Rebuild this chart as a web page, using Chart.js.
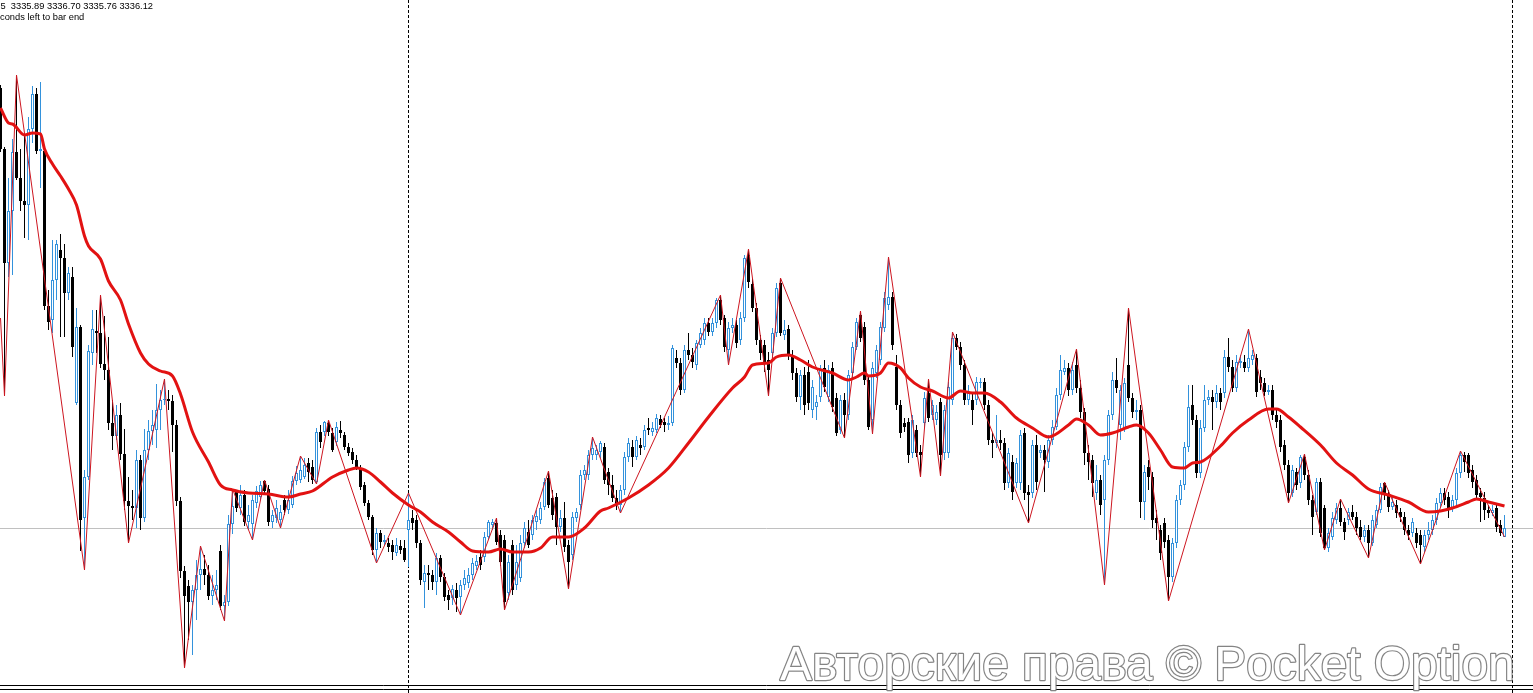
<!DOCTYPE html>
<html>
<head>
<meta charset="utf-8">
<title>M5 chart</title>
<script src="https://cdn.jsdelivr.net/npm/chart.js@4.4.1/dist/chart.umd.min.js"></script>
<style>
  html, body { margin: 0; padding: 0; background: #fff; overflow: hidden; }
  canvas { display: block; }
</style>
</head>
<body>
<canvas id="priceChart" width="1533" height="693"></canvas>
<script>
// Candles, one per bar (bar index = position in the arrays)
const opens = [
  3380.1, 3374.0, 3362.6, 3367.8, 3373.7, 3371.1, 3368.8, 3368.4, 3376.0, 3379.5,
  3373.8, 3373.8, 3358.3, 3356.9, 3360.9, 3363.9, 3363.1, 3359.6, 3361.2, 3348.6,
  3356.2, 3337.1, 3341.2, 3353.6, 3355.8, 3355.6, 3352.5, 3351.9, 3346.6, 3345.3,
  3347.4, 3343.5, 3338.8, 3338.3, 3338.1, 3342.9, 3337.1, 3343.9, 3345.8, 3345.9,
  3347.9, 3348.9, 3349.0, 3348.8, 3346.4, 3338.8, 3331.8, 3330.3, 3328.7, 3329.9,
  3331.4, 3332.0, 3331.4, 3329.3, 3329.9, 3333.8, 3328.3, 3328.7, 3336.5, 3339.7,
  3338.1, 3339.4, 3336.7, 3336.5, 3338.6, 3339.2, 3340.8, 3340.0, 3336.7, 3337.1,
  3336.9, 3338.9, 3337.9, 3338.4, 3340.8, 3340.9, 3341.2, 3342.6, 3342.2, 3340.7,
  3345.7, 3345.7, 3346.6, 3345.6, 3344.7, 3345.9, 3345.4, 3344.2, 3343.7, 3342.9,
  3342.1, 3340.4, 3338.6, 3337.2, 3333.9, 3335.6, 3334.7, 3334.6, 3334.4, 3333.6,
  3334.3, 3334.1, 3335.9, 3337.1, 3336.9, 3334.6, 3330.7, 3331.6, 3331.4, 3330.7,
  3333.1, 3331.2, 3329.4, 3329.1, 3329.9, 3329.2, 3330.4, 3330.6, 3331.4, 3332.3,
  3333.2, 3333.2, 3335.2, 3336.4, 3336.6, 3335.4, 3334.9, 3329.6, 3334.4, 3330.4,
  3331.1, 3334.6, 3335.7, 3335.4, 3336.7, 3336.9, 3338.2, 3341.1, 3339.1, 3339.2,
  3336.2, 3337.1, 3334.4, 3333.4, 3337.1, 3338.4, 3341.4, 3341.4, 3343.4, 3343.4,
  3343.7, 3344.2, 3341.7, 3340.4, 3339.1, 3338.4, 3339.9, 3343.2, 3344.2, 3343.2,
  3344.4, 3344.2, 3346.1, 3345.7, 3345.9, 3347.0, 3346.7, 3346.4, 3346.6, 3353.1,
  3352.6, 3349.9, 3353.9, 3353.4, 3352.4, 3354.4, 3354.9, 3356.6, 3355.7, 3356.6,
  3358.9, 3357.1, 3353.9, 3356.1, 3356.4, 3354.9, 3357.1, 3363.4, 3360.5, 3358.1,
  3354.9, 3354.4, 3352.9, 3353.6, 3355.6, 3360.6, 3355.4, 3356.0, 3353.4, 3351.6,
  3349.2, 3351.4, 3351.7, 3347.9, 3348.2, 3349.2, 3352.1, 3349.2, 3352.1, 3349.1,
  3345.9, 3348.9, 3347.4, 3351.6, 3354.2, 3357.4, 3356.2, 3350.9, 3346.9, 3351.6,
  3352.9, 3356.1, 3358.4, 3359.2, 3352.2, 3348.4, 3346.6, 3346.7, 3343.6, 3345.9,
  3343.7, 3346.6, 3349.6, 3347.4, 3346.9, 3348.7, 3343.6, 3343.6, 3348.9, 3355.1,
  3354.2, 3352.4, 3348.9, 3348.9, 3348.9, 3350.6, 3350.7, 3348.4, 3344.9, 3344.6,
  3344.9, 3344.6, 3340.6, 3342.7, 3340.6, 3340.6, 3345.6, 3339.7, 3339.6, 3344.4,
  3343.6, 3343.9, 3342.7, 3344.9, 3346.2, 3349.4, 3351.7, 3352.1, 3349.9, 3352.4,
  3350.1, 3347.7, 3343.6, 3342.9, 3339.6, 3340.9, 3338.9, 3342.9, 3347.4, 3350.9,
  3346.4, 3346.1, 3352.4, 3349.1, 3347.7, 3347.9, 3338.7, 3342.2, 3341.2, 3337.1,
  3335.9, 3336.6, 3334.9, 3331.2, 3334.6, 3338.9, 3340.4, 3344.2, 3348.4, 3346.9,
  3341.6, 3346.1, 3348.9, 3349.2, 3348.7, 3349.6, 3349.6, 3353.2, 3352.2, 3350.1,
  3352.6, 3352.7, 3352.1, 3352.9, 3353.1, 3351.2, 3350.6, 3349.7, 3349.9, 3347.4,
  3346.9, 3344.4, 3342.4, 3339.6, 3341.7, 3340.6, 3343.2, 3341.4, 3338.9, 3337.7,
  3340.7, 3338.1, 3334.1, 3335.2, 3336.9, 3338.1, 3336.7, 3336.9, 3337.7, 3337.2,
  3336.2, 3335.2, 3335.9, 3334.6, 3336.4, 3337.9, 3340.6, 3339.4, 3338.2, 3338.4,
  3337.7, 3337.2, 3335.9, 3335.6, 3335.6, 3335.4, 3334.2, 3335.4, 3335.9, 3336.9,
  3338.6, 3339.6, 3339.2, 3338.1, 3338.9, 3341.6, 3343.4, 3343.4, 3341.9, 3340.9,
  3339.6, 3339.1, 3337.9, 3337.6, 3338.1, 3336.4, 3335.2
];
const highs = [
  3380.4, 3374.2, 3371.1, 3375.0, 3381.4, 3374.0, 3375.4, 3377.2, 3380.3, 3380.1,
  3380.7, 3374.2, 3359.9, 3364.9, 3364.9, 3365.5, 3364.5, 3362.2, 3362.2, 3358.1,
  3356.4, 3341.9, 3354.4, 3357.9, 3357.9, 3359.4, 3357.3, 3355.2, 3348.9, 3348.4,
  3348.6, 3346.0, 3341.2, 3339.9, 3343.9, 3343.4, 3346.0, 3346.9, 3347.9, 3350.5,
  3349.9, 3351.0, 3349.9, 3349.4, 3346.9, 3339.2, 3332.3, 3330.9, 3330.4, 3332.9,
  3334.3, 3333.4, 3332.4, 3331.4, 3331.9, 3334.4, 3329.4, 3337.4, 3340.0, 3339.9,
  3340.4, 3339.9, 3338.4, 3339.4, 3340.3, 3340.8, 3340.9, 3340.4, 3337.9, 3338.9,
  3338.4, 3339.4, 3339.9, 3341.3, 3342.3, 3343.3, 3343.1, 3343.1, 3342.9, 3346.1,
  3346.4, 3346.8, 3346.9, 3346.1, 3346.7, 3346.8, 3345.7, 3344.6, 3344.1, 3343.4,
  3342.4, 3340.7, 3338.9, 3337.4, 3336.1, 3335.9, 3335.4, 3335.1, 3334.9, 3335.1,
  3334.9, 3334.9, 3339.6, 3337.9, 3337.4, 3334.9, 3332.4, 3332.4, 3331.9, 3333.6,
  3333.4, 3331.6, 3329.9, 3330.4, 3330.6, 3330.9, 3331.9, 3332.1, 3333.1, 3333.4,
  3333.9, 3335.7, 3336.9, 3337.0, 3337.1, 3335.9, 3335.4, 3333.4, 3334.9, 3334.4,
  3335.4, 3336.7, 3336.9, 3337.4, 3337.9, 3338.7, 3341.1, 3341.8, 3339.9, 3339.6,
  3337.9, 3338.7, 3334.9, 3337.7, 3338.1, 3341.9, 3342.4, 3343.9, 3345.2, 3344.4,
  3344.8, 3344.6, 3342.1, 3341.4, 3339.9, 3340.4, 3343.7, 3345.1, 3344.9, 3345.3,
  3345.1, 3346.4, 3347.1, 3346.7, 3347.5, 3347.4, 3347.1, 3347.3, 3354.4, 3353.9,
  3353.1, 3354.4, 3355.6, 3354.1, 3354.9, 3356.1, 3357.1, 3357.1, 3357.1, 3359.1,
  3359.4, 3357.4, 3356.7, 3357.1, 3356.9, 3357.7, 3363.4, 3364.0, 3361.1, 3358.6,
  3355.4, 3354.9, 3353.7, 3356.1, 3360.6, 3361.1, 3356.9, 3356.4, 3353.9, 3352.1,
  3351.9, 3352.2, 3352.9, 3350.9, 3349.4, 3352.4, 3352.9, 3352.4, 3352.7, 3349.6,
  3349.4, 3349.6, 3351.9, 3354.7, 3357.1, 3357.8, 3356.7, 3351.4, 3352.7, 3354.4,
  3356.7, 3359.7, 3363.2, 3359.7, 3353.4, 3348.9, 3347.1, 3347.1, 3347.4, 3346.4,
  3344.4, 3349.7, 3351.0, 3348.9, 3348.4, 3349.1, 3348.4, 3350.7, 3355.7, 3355.5,
  3354.7, 3352.9, 3350.4, 3349.6, 3351.2, 3351.1, 3351.1, 3348.9, 3345.6, 3347.4,
  3345.9, 3345.1, 3344.1, 3343.4, 3343.1, 3345.9, 3346.1, 3340.4, 3344.9, 3345.4,
  3344.4, 3344.4, 3345.4, 3346.9, 3350.1, 3353.4, 3352.9, 3352.6, 3352.7, 3354.0,
  3350.9, 3348.1, 3344.4, 3343.4, 3342.4, 3341.4, 3343.4, 3347.9, 3351.7, 3353.1,
  3350.4, 3351.1, 3358.1, 3349.6, 3348.9, 3348.4, 3342.4, 3342.9, 3341.7, 3337.9,
  3336.4, 3337.1, 3335.4, 3335.1, 3339.4, 3340.9, 3344.7, 3350.4, 3350.4, 3347.4,
  3346.9, 3350.4, 3349.9, 3349.9, 3350.4, 3350.1, 3353.9, 3355.1, 3352.9, 3353.4,
  3353.4, 3353.4, 3356.0, 3353.9, 3353.5, 3351.9, 3351.1, 3350.4, 3350.4, 3347.9,
  3347.4, 3344.9, 3342.9, 3342.4, 3342.1, 3343.4, 3343.5, 3341.9, 3339.4, 3341.1,
  3341.1, 3338.4, 3336.1, 3337.7, 3338.6, 3339.0, 3337.1, 3338.1, 3338.4, 3337.7,
  3336.9, 3336.4, 3336.4, 3337.4, 3338.4, 3340.6, 3340.7, 3339.9, 3339.2, 3338.9,
  3338.1, 3337.7, 3336.4, 3337.1, 3336.1, 3335.9, 3335.9, 3336.7, 3337.4, 3339.1,
  3340.1, 3340.1, 3339.7, 3339.4, 3342.1, 3343.8, 3343.7, 3343.6, 3342.4, 3341.4,
  3340.1, 3339.7, 3338.4, 3338.4, 3338.4, 3336.9, 3337.4
];
const lows = [
  3373.7, 3349.3, 3361.2, 3361.4, 3370.9, 3367.8, 3365.1, 3364.9, 3374.6, 3373.5,
  3370.1, 3357.9, 3355.9, 3355.6, 3358.9, 3355.2, 3355.2, 3358.9, 3353.2, 3348.4,
  3333.8, 3331.9, 3340.9, 3352.4, 3353.6, 3352.1, 3350.9, 3345.9, 3343.9, 3344.9,
  3342.9, 3337.9, 3334.6, 3336.9, 3336.1, 3335.9, 3336.7, 3342.9, 3344.4, 3344.1,
  3345.9, 3348.4, 3347.9, 3343.7, 3338.3, 3331.1, 3322.1, 3324.9, 3323.4, 3326.9,
  3329.9, 3330.4, 3328.9, 3328.4, 3328.9, 3327.9, 3326.8, 3328.3, 3335.5, 3337.7,
  3337.4, 3336.3, 3335.9, 3334.9, 3338.1, 3338.9, 3339.4, 3336.3, 3336.1, 3336.6,
  3336.1, 3337.4, 3337.5, 3338.1, 3340.4, 3340.6, 3341.0, 3340.7, 3340.5, 3340.5,
  3344.1, 3345.3, 3345.3, 3343.7, 3344.3, 3345.1, 3343.9, 3343.3, 3342.5, 3341.9,
  3339.9, 3338.3, 3336.9, 3333.4, 3332.6, 3334.1, 3334.3, 3333.7, 3332.9, 3333.3,
  3333.5, 3332.7, 3332.2, 3335.9, 3334.1, 3330.4, 3328.1, 3329.9, 3329.9, 3329.4,
  3330.7, 3328.8, 3327.9, 3328.4, 3327.7, 3327.4, 3329.9, 3330.1, 3330.9, 3331.9,
  3331.9, 3332.7, 3334.9, 3335.9, 3334.4, 3332.3, 3327.9, 3328.9, 3329.4, 3329.9,
  3330.7, 3334.1, 3334.1, 3334.9, 3335.9, 3336.5, 3337.9, 3338.1, 3336.9, 3334.4,
  3335.7, 3333.7, 3330.0, 3332.9, 3336.7, 3337.9, 3340.9, 3340.9, 3342.9, 3342.9,
  3343.1, 3340.5, 3339.4, 3338.7, 3337.9, 3337.6, 3339.4, 3342.7, 3342.2, 3342.9,
  3343.4, 3343.9, 3345.4, 3345.3, 3345.6, 3346.1, 3345.7, 3345.9, 3346.3, 3352.1,
  3349.4, 3349.6, 3352.9, 3352.1, 3351.9, 3354.1, 3354.4, 3355.3, 3355.3, 3356.1,
  3356.4, 3353.7, 3352.4, 3355.6, 3354.1, 3354.4, 3356.7, 3360.1, 3357.7, 3354.4,
  3352.9, 3351.7, 3349.3, 3352.9, 3355.2, 3355.3, 3354.9, 3352.9, 3350.9, 3348.7,
  3347.9, 3347.4, 3347.9, 3347.1, 3346.9, 3348.7, 3349.7, 3348.7, 3347.7, 3345.3,
  3345.5, 3345.1, 3346.9, 3351.1, 3353.9, 3354.7, 3350.4, 3345.9, 3345.5, 3351.1,
  3352.4, 3355.7, 3357.9, 3353.9, 3347.9, 3345.1, 3345.7, 3342.6, 3343.1, 3343.2,
  3341.2, 3346.1, 3346.7, 3346.9, 3346.4, 3341.3, 3342.9, 3343.1, 3348.4, 3353.9,
  3351.9, 3348.4, 3348.4, 3346.4, 3348.4, 3350.1, 3347.9, 3344.4, 3343.1, 3344.1,
  3343.9, 3339.9, 3340.1, 3338.9, 3340.1, 3339.9, 3338.9, 3336.6, 3339.1, 3339.9,
  3343.1, 3339.7, 3342.1, 3344.4, 3345.9, 3348.9, 3351.4, 3349.3, 3349.4, 3349.6,
  3347.1, 3342.4, 3340.9, 3339.2, 3338.9, 3337.4, 3330.4, 3342.4, 3346.9, 3349.6,
  3344.9, 3345.7, 3348.7, 3347.1, 3346.9, 3337.1, 3336.9, 3339.9, 3336.1, 3334.9,
  3332.9, 3334.1, 3328.8, 3330.7, 3334.1, 3338.4, 3339.9, 3343.7, 3346.4, 3341.1,
  3341.1, 3345.7, 3348.4, 3345.9, 3348.1, 3347.9, 3349.1, 3351.7, 3349.7, 3349.7,
  3352.1, 3351.7, 3351.7, 3352.4, 3349.2, 3349.9, 3349.3, 3349.4, 3346.9, 3346.1,
  3343.7, 3341.9, 3338.6, 3339.2, 3339.9, 3340.1, 3340.9, 3338.4, 3335.4, 3337.4,
  3335.2, 3333.9, 3333.7, 3334.9, 3336.5, 3336.3, 3334.9, 3336.4, 3336.9, 3335.4,
  3334.9, 3334.7, 3333.1, 3334.3, 3336.1, 3337.6, 3338.9, 3337.7, 3337.9, 3337.1,
  3336.7, 3335.4, 3334.9, 3335.2, 3334.1, 3332.5, 3333.7, 3334.9, 3335.4, 3336.4,
  3338.1, 3338.4, 3337.1, 3337.7, 3338.4, 3341.1, 3341.7, 3341.1, 3340.1, 3338.9,
  3336.7, 3336.9, 3337.1, 3337.3, 3335.7, 3335.3, 3335.2
];
const closes = [
  3374.0, 3362.6, 3367.8, 3373.7, 3371.1, 3368.8, 3368.4, 3376.0, 3379.5, 3373.8,
  3374.0, 3358.3, 3356.7, 3360.9, 3364.5, 3363.1, 3359.6, 3361.6, 3354.2, 3356.2,
  3336.9, 3341.2, 3353.8, 3356.0, 3355.6, 3352.5, 3351.9, 3346.6, 3345.3, 3347.4,
  3343.5, 3338.8, 3338.3, 3338.1, 3342.9, 3337.1, 3343.9, 3345.8, 3346.4, 3347.9,
  3348.9, 3349.0, 3348.8, 3346.4, 3338.8, 3331.8, 3329.3, 3328.7, 3329.9, 3331.4,
  3332.0, 3331.4, 3329.3, 3329.9, 3330.4, 3328.3, 3328.7, 3336.5, 3338.3, 3338.1,
  3339.4, 3336.7, 3337.4, 3338.9, 3339.8, 3340.4, 3339.8, 3336.7, 3337.4, 3338.1,
  3337.7, 3337.9, 3338.9, 3340.8, 3341.6, 3341.9, 3342.4, 3341.7, 3340.9, 3345.7,
  3344.7, 3346.7, 3345.7, 3343.9, 3346.2, 3345.6, 3344.2, 3343.6, 3342.9, 3342.2,
  3340.2, 3338.6, 3337.2, 3333.9, 3335.6, 3334.7, 3334.9, 3334.2, 3333.7, 3334.4,
  3333.9, 3332.9, 3336.9, 3336.6, 3334.6, 3330.9, 3331.6, 3331.4, 3330.7, 3333.1,
  3331.2, 3329.2, 3328.9, 3330.0, 3329.1, 3330.4, 3331.1, 3331.4, 3332.6, 3332.8,
  3332.4, 3335.2, 3336.7, 3336.7, 3334.7, 3332.7, 3328.7, 3332.7, 3329.9, 3332.7,
  3334.6, 3336.1, 3334.4, 3336.9, 3337.3, 3338.1, 3340.7, 3338.4, 3337.4, 3336.2,
  3337.1, 3334.2, 3332.7, 3337.2, 3337.7, 3341.4, 3341.9, 3343.4, 3344.1, 3343.9,
  3344.6, 3340.9, 3340.4, 3339.1, 3338.4, 3339.9, 3343.2, 3344.6, 3343.2, 3344.9,
  3344.1, 3345.9, 3345.9, 3346.1, 3347.1, 3346.4, 3346.4, 3346.6, 3354.1, 3352.6,
  3349.9, 3353.9, 3353.4, 3352.7, 3354.6, 3355.6, 3356.6, 3355.7, 3356.6, 3358.9,
  3356.9, 3354.2, 3356.1, 3356.4, 3354.6, 3357.1, 3363.1, 3360.7, 3358.1, 3354.9,
  3353.6, 3352.6, 3351.9, 3355.6, 3360.1, 3355.6, 3355.9, 3353.4, 3351.6, 3349.2,
  3351.4, 3348.4, 3348.6, 3350.2, 3348.7, 3351.9, 3350.2, 3351.9, 3348.2, 3345.6,
  3348.9, 3347.4, 3351.4, 3354.2, 3356.7, 3355.1, 3350.9, 3346.2, 3352.1, 3353.9,
  3356.2, 3359.1, 3359.2, 3354.4, 3348.4, 3345.6, 3346.2, 3343.4, 3346.9, 3343.6,
  3343.4, 3349.1, 3347.1, 3348.4, 3347.7, 3343.4, 3347.9, 3350.2, 3355.1, 3354.2,
  3352.4, 3348.9, 3349.7, 3347.9, 3350.7, 3350.7, 3348.4, 3344.9, 3344.6, 3344.9,
  3344.6, 3340.6, 3343.6, 3339.7, 3342.6, 3345.4, 3339.6, 3339.4, 3344.4, 3340.7,
  3343.9, 3342.9, 3344.9, 3346.2, 3349.4, 3351.9, 3352.1, 3349.9, 3351.9, 3350.1,
  3347.7, 3343.6, 3342.7, 3340.6, 3340.9, 3338.4, 3342.9, 3347.4, 3350.9, 3350.1,
  3349.9, 3350.6, 3349.1, 3347.7, 3347.9, 3338.7, 3341.7, 3341.2, 3336.9, 3336.6,
  3333.6, 3334.7, 3331.2, 3334.6, 3338.9, 3340.4, 3344.2, 3348.2, 3346.9, 3341.6,
  3346.1, 3348.9, 3349.2, 3348.7, 3349.6, 3348.7, 3353.2, 3352.2, 3350.1, 3352.7,
  3352.8, 3352.1, 3353.1, 3353.4, 3349.7, 3350.6, 3349.7, 3349.9, 3347.4, 3346.7,
  3344.2, 3342.4, 3339.6, 3341.9, 3340.4, 3343.2, 3341.4, 3338.9, 3337.2, 3340.7,
  3335.6, 3334.1, 3335.6, 3337.1, 3338.1, 3336.7, 3335.7, 3337.7, 3337.2, 3336.1,
  3335.2, 3335.9, 3334.6, 3336.9, 3337.9, 3340.2, 3339.4, 3338.2, 3338.7, 3337.6,
  3337.2, 3335.9, 3335.4, 3336.7, 3334.6, 3334.4, 3335.4, 3335.9, 3336.9, 3338.6,
  3339.6, 3338.9, 3338.1, 3338.9, 3341.6, 3343.4, 3342.7, 3341.6, 3340.7, 3339.4,
  3339.2, 3337.9, 3337.6, 3337.9, 3336.2, 3335.6, 3336.1
];

// Moving average (thick red), read at sample bars
const maBars = [0, 2, 3, 6, 8, 10, 11, 13, 15, 17, 19, 21, 22, 25, 27, 30, 32, 35, 37, 40,
  43, 45, 48, 52, 55, 58, 62, 67, 72, 75, 78, 83, 87, 89, 92, 95, 98, 102, 105, 108,
  112, 115, 118, 122, 125, 128, 132, 135, 138, 142, 146, 150, 152, 157, 162, 167, 172, 177, 183, 186,
  188, 192, 194, 197, 200, 203, 208, 212, 214, 216, 217, 220, 222, 225, 227, 230, 233, 237, 240, 243,
  246, 250, 254, 258, 262, 267, 269, 272, 275, 278, 282, 284, 287, 290, 293, 296, 298, 300, 305, 308,
  312, 317, 319, 322, 325, 330, 334, 338, 342, 347, 352, 357, 360, 363, 367, 369, 372, 376];
const maValues = [3378.1, 3376.6, 3376.5, 3375.4, 3375.6, 3375.5, 3374.0, 3372.5, 3371.3, 3370.0, 3368.4, 3365.3, 3364.3, 3363.0, 3360.8, 3358.9, 3356.5, 3353.6, 3352.5, 3351.8,
  3351.3, 3349.5, 3345.7, 3342.7, 3340.4, 3339.9, 3339.6, 3339.5, 3339.2, 3339.5, 3339.8, 3341.2, 3341.9, 3342.1, 3341.7, 3340.7, 3339.6, 3338.4, 3337.7, 3336.7,
  3335.7, 3334.7, 3333.8, 3333.7, 3334.0, 3333.7, 3333.7, 3334.1, 3335.2, 3335.2, 3336.1, 3337.8, 3338.1, 3339.1, 3340.4, 3342.1, 3344.6, 3347.2, 3350.1, 3351.2,
  3352.4, 3352.6, 3353.2, 3353.4, 3352.9, 3352.2, 3351.6, 3350.9, 3351.2, 3351.6, 3351.3, 3351.6, 3352.6, 3352.1, 3351.1, 3350.2, 3349.8, 3349.1, 3349.8, 3349.6,
  3349.6, 3348.7, 3347.1, 3346.1, 3345.2, 3346.4, 3347.0, 3346.4, 3345.4, 3345.6, 3346.2, 3346.4, 3345.6, 3343.9, 3342.2, 3342.1, 3342.6, 3342.7, 3344.3, 3345.6,
  3346.9, 3348.0, 3348.0, 3347.2, 3346.2, 3344.4, 3342.6, 3341.4, 3340.0, 3339.4, 3338.7, 3337.7, 3337.8, 3338.1, 3338.7, 3339.0, 3338.7, 3338.3];

// ZigZag turning points (thin red)
const zigzagBars = [0, 1, 4, 21, 25, 32, 41, 46, 50, 56, 58, 63, 66, 70, 75, 79, 82, 94, 102, 115,
  124, 126, 137, 142, 148, 155, 180, 182, 187, 192, 195, 211, 215, 218, 222, 230, 232, 235, 238, 257,
  269, 276, 282, 292, 312, 322, 326, 331, 335, 342, 346, 355, 365, 376];
const zigzagValues = [3357.1, 3349.3, 3381.4, 3331.9, 3359.4, 3334.6, 3351.0, 3322.1, 3334.3, 3326.8, 3340.0, 3334.9, 3340.9, 3336.1, 3343.3, 3340.5, 3346.9, 3332.6, 3339.6, 3327.4,
  3337.1, 3327.9, 3341.8, 3330.0, 3345.2, 3337.6, 3359.4, 3352.4, 3364.0, 3349.3, 3361.1, 3345.1, 3357.8, 3345.5, 3363.2, 3341.2, 3351.0, 3341.3, 3355.7, 3336.6,
  3354.0, 3330.4, 3358.1, 3328.8, 3356.0, 3338.6, 3343.5, 3333.9, 3339.0, 3333.1, 3340.7, 3332.5, 3343.8, 3335.2];

// Dotted vertical separators (bar index)
const separatorBars = [102, 378];

const headerLine1 = "5  3335.89 3336.70 3335.76 3336.12";
const headerLine2 = "conds left to bar end";
const watermark = "Авторские права © Pocket Option";

const upColor = "#3392dc";
const downColor = "#000000";

// Build the floating-bar tables the library needs
const barIndex = closes.map((c, i) => i);
const isUp = barIndex.map(i => closes[i] >= opens[i]);
const wickData = barIndex.map(i => ({ x: i, y: [lows[i], highs[i]] }));
const bodyData = barIndex.map(i => ({ x: i, y: [opens[i], closes[i]] }));
const maData = maBars.map((b, i) => ({ x: b, y: maValues[i] }));
const zigzagData = zigzagBars.map((b, i) => ({ x: b, y: zigzagValues[i] }));

// Background lines and texts
const chartDecor = {
    id: "chartDecor",
    beforeDatasetsDraw(chart) {
        const { ctx, scales } = chart;
        const w = chart.width;
        const h = chart.height;
        ctx.save();

        // bid line at the last close
        const bidY = Math.floor(scales.y.getPixelForValue(closes[closes.length - 1])) + 0.5;
        ctx.strokeStyle = "#c0c0c0";
        ctx.lineWidth = 1;
        ctx.beginPath();
        ctx.moveTo(0, bidY);
        ctx.lineTo(w, bidY);
        ctx.stroke();

        // period separators
        ctx.strokeStyle = "#000";
        ctx.setLineDash([3, 2]);
        separatorBars.forEach((b) => {
            const px = Math.floor(scales.x.getPixelForValue(b)) + 0.5;
            ctx.beginPath();
            ctx.moveTo(px, 0);
            ctx.lineTo(px, h);
            ctx.stroke();
        });
        ctx.restore();
    },
    afterDraw(chart) {
        const { ctx } = chart;
        const w = chart.width;
        ctx.save();

        // bottom frame lines
        ctx.strokeStyle = "#000";
        ctx.lineWidth = 1;
        [685.5, 689.5].forEach((yy) => {
            ctx.beginPath();
            ctx.moveTo(0, yy);
            ctx.lineTo(w, yy);
            ctx.stroke();
        });

        // header texts
        ctx.fillStyle = "#000";
        ctx.font = '9.3px "Liberation Sans", Arial, sans-serif';
        ctx.textBaseline = "alphabetic";
        ctx.fillText(headerLine1, 0.5, 9);
        ctx.fillText(headerLine2, 0, 20);

        // watermark, fitted to its width
        ctx.font = '50px "Liberation Sans", Arial, sans-serif';
        const scale = 735 / ctx.measureText(watermark).width;
        ctx.font = (50 * scale).toFixed(1) + 'px "Liberation Sans", Arial, sans-serif';
        ctx.lineJoin = "round";
        ctx.strokeStyle = "rgba(110,110,110,0.85)";
        ctx.lineWidth = 2.4;
        ctx.strokeText(watermark, 780, 680);
        ctx.fillStyle = "#ffffff";
        ctx.fillText(watermark, 780, 680);
        ctx.restore();
    }
};

function renderChart() {
    const ctx = document.getElementById("priceChart").getContext("2d");

    new Chart(ctx, {
        data: {
            datasets: [
                {
                    type: "line",
                    label: "MA",
                    data: maData,
                    borderColor: "rgb(226,18,18)",
                    borderWidth: 3,
                    pointRadius: 0,
                    cubicInterpolationMode: "monotone",
                    order: 0,
                },
                {
                    type: "line",
                    label: "ZigZag",
                    data: zigzagData,
                    borderColor: "rgb(205,22,32)",
                    borderWidth: 1,
                    pointRadius: 0,
                    tension: 0,
                    order: 1,
                },
                {
                    type: "bar",
                    label: "Bodies",
                    data: bodyData,
                    backgroundColor: isUp.map(u => (u ? "#ffffff" : downColor)),
                    borderColor: isUp.map(u => (u ? upColor : downColor)),
                    borderWidth: 1,
                    borderSkipped: false,
                    barThickness: 3,
                    minBarLength: 1,
                    inflateAmount: 0,
                    grouped: false,
                    order: 2,
                },
                {
                    type: "bar",
                    label: "Wicks",
                    data: wickData,
                    backgroundColor: isUp.map(u => (u ? upColor : downColor)),
                    borderWidth: 0,
                    barThickness: 1,
                    inflateAmount: 0,
                    grouped: false,
                    order: 3,
                },
            ],
        },
        options: {
            responsive: false,
            animation: false,
            devicePixelRatio: 1,
            layout: { padding: 0 },
            plugins: {
                legend: { display: false },
                tooltip: { enabled: false },
            },
            scales: {
                x: { type: "linear", min: -0.125, max: 383.125, offset: false, display: false },
                y: { type: "linear", min: 3319.6, max: 3388.9, display: false },
            },
        },
        plugins: [chartDecor],
    });
}

document.addEventListener("DOMContentLoaded", renderChart);
</script>
</body>
</html>
